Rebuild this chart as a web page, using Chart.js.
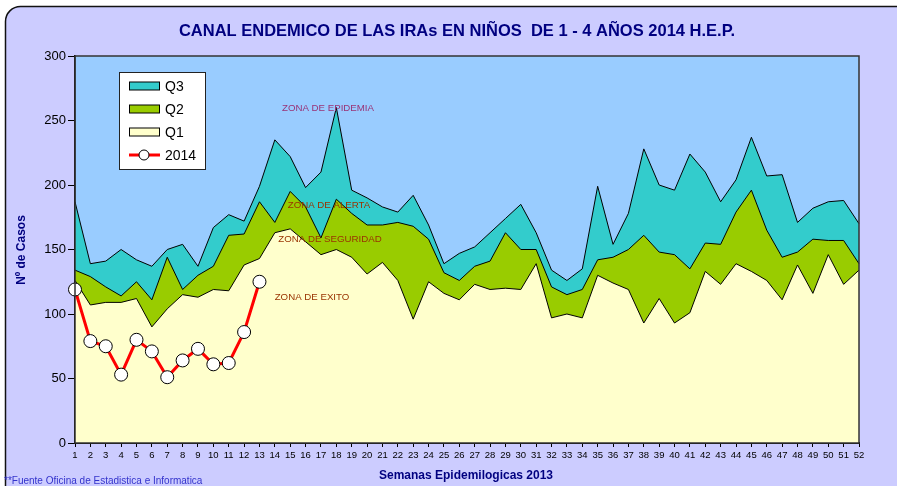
<!DOCTYPE html>
<html lang="en">
<head>
    <meta charset="UTF-8"/>
    <title>Canal Endemico IRAs</title>
    <script src="https://cdn.jsdelivr.net/npm/chart.js"></script>
    <style>
        html, body {
            margin: 0;
            padding: 0;
            background-color: #fff;
            overflow: hidden;
        }

        .chart-wrapper {
            width: 897px;
            height: 486px;
        }

        canvas {
            display: block;
        }
    </style>
</head>
<body>
<div class="chart-wrapper">
    <canvas id="canal" width="897" height="486"></canvas>
</div>

<script>
    // semanas epidemiologicas
    const weeks = ['1','2','3','4','5','6','7','8','9','10','11','12','13','14','15','16','17','18','19','20',
        '21','22','23','24','25','26','27','28','29','30','31','32','33','34','35','36','37','38','39','40',
        '41','42','43','44','45','46','47','48','49','50','51','52'];

    // limite superior de cada zona (casos)
    const q1 = [126, 107, 109, 109, 112, 90, 104, 115, 113, 119, 118, 138, 143, 163, 166, 156, 146, 150, 144, 131,
        140, 126, 96, 125, 116, 111, 123, 119, 120, 119, 139, 97, 100, 97, 130, 124, 119, 93, 112, 93,
        101, 133, 123, 139, 133, 126, 111, 138, 116, 146, 123, 134];
    const q2 = [134, 129, 121, 114, 125, 111, 144, 119, 130, 137, 161, 162, 187, 171, 195, 183, 159, 189, 178, 169,
        169, 171, 168, 158, 132, 126, 137, 141, 163, 150, 150, 121, 115, 119, 142, 144, 150, 161, 148, 146,
        135, 155, 154, 179, 196, 165, 144, 148, 158, 157, 157, 139];
    const q3 = [187, 139, 141, 150, 142, 137, 150, 154, 137, 167, 177, 172, 199, 235, 222, 198, 210, 260, 196, 190,
        183, 179, 192, 169, 139, 147, 152, 163, 174, 185, 163, 134, 126, 135, 199, 154, 178, 228, 200, 196,
        224, 210, 187, 204, 237, 207, 208, 171, 182, 187, 188, 170];

    // casos 2014 (semanas 1 - 13)
    const casos2014 = [119, 79, 75, 53, 80, 71, 51, 64, 73, 61, 62, 86, 125];

    const yTicks = [0, 50, 100, 150, 200, 250, 300];

    const NAVY = '#000080';
    const FONT = '"Liberation Sans", Arial, sans-serif';
    const NARROW = '"Liberation Sans Narrow", "Arial Narrow", "Liberation Sans", sans-serif';

    const zoneLabels = [
        {text: 'ZONA DE EPIDEMIA', x: 328, y: 108, color: '#993377'},
        {text: 'ZONA DE ALERTA', x: 329, y: 205, color: '#993300'},
        {text: 'ZONA DE SEGURIDAD', x: 330, y: 239, color: '#993300'},
        {text: 'ZONA DE EXITO', x: 312, y: 297, color: '#993300'}
    ];

    // marco redondeado y fondo del area de grafico
    const plotBackground = {
        id: 'plotBackground',
        beforeDraw(chart) {
            const {ctx, chartArea: a} = chart;
            ctx.save();
            ctx.fillStyle = '#fff';
            ctx.fillRect(0, 0, chart.width, chart.height);
            ctx.beginPath();
            ctx.roundRect(5.5, 6.5, 1000, 600, 15);
            ctx.fillStyle = '#ccccff';
            ctx.fill();
            ctx.strokeStyle = '#111';
            ctx.lineWidth = 1.5;
            ctx.stroke();

            ctx.fillStyle = '#99ccff';
            ctx.fillRect(a.left, a.top, a.right - a.left, a.bottom - a.top);
            ctx.restore();
        },
        afterDatasetsDraw(chart) {
            const {ctx, chartArea: a} = chart;
            ctx.save();
            ctx.strokeStyle = '#333';
            ctx.lineWidth = 1.5;
            ctx.strokeRect(a.left, a.top, a.right - a.left, a.bottom - a.top);
            ctx.restore();
        }
    };

    const extraText = {
        id: 'extraText',
        afterDraw(chart) {
            const ctx = chart.ctx;
            ctx.save();

            // zonas
            ctx.font = '9.7px ' + FONT;
            ctx.textAlign = 'center';
            ctx.textBaseline = 'middle';
            zoneLabels.forEach(z => {
                ctx.fillStyle = z.color;
                ctx.fillText(z.text, z.x, z.y);
            });

            // titulo
            ctx.fillStyle = NAVY;
            ctx.font = 'bold 16.5px ' + NARROW;
            ctx.fillText('CANAL ENDEMICO DE LAS IRAs EN NIÑOS  DE 1 - 4 AÑOS 2014 H.E.P.', 457, 31);

            // titulos de ejes
            ctx.font = 'bold 12px ' + FONT;
            ctx.fillText('Semanas Epidemilogicas 2013', 466, 476);
            ctx.save();
            ctx.translate(22, 250);
            ctx.rotate(-Math.PI / 2);
            ctx.fillText('Nº de Casos', 0, 0);
            ctx.restore();

            // fuente
            ctx.font = '10px ' + NARROW;
            ctx.textAlign = 'left';
            ctx.fillStyle = '#3333cc';
            ctx.fillText('**Fuente Oficina de Estadistica e Informatica', 4, 481);

            // leyenda
            const lx = 119.5, ly = 72.5, lw = 86, lh = 97;
            ctx.fillStyle = '#fff';
            ctx.fillRect(lx, ly, lw, lh);
            ctx.strokeStyle = '#222';
            ctx.lineWidth = 1;
            ctx.strokeRect(lx, ly, lw, lh);

            const items = [
                {label: 'Q3', color: '#33cccc', y: 86},
                {label: 'Q2', color: '#99cc00', y: 109},
                {label: 'Q1', color: '#ffffcc', y: 132}
            ];
            ctx.font = '14px ' + FONT;
            ctx.textBaseline = 'middle';
            items.forEach(it => {
                ctx.fillStyle = it.color;
                ctx.fillRect(129.5, it.y - 4, 30, 8);
                ctx.strokeStyle = '#000';
                ctx.strokeRect(129.5, it.y - 4, 30, 8);
                ctx.fillStyle = '#000';
                ctx.fillText(it.label, 165, it.y + 1);
            });
            ctx.strokeStyle = '#ff0000';
            ctx.lineWidth = 3;
            ctx.beginPath();
            ctx.moveTo(129, 155);
            ctx.lineTo(160, 155);
            ctx.stroke();
            ctx.fillStyle = '#fff';
            ctx.strokeStyle = '#000';
            ctx.lineWidth = 1;
            ctx.beginPath();
            ctx.arc(144, 155, 5, 0, Math.PI * 2);
            ctx.fill();
            ctx.stroke();
            ctx.fillStyle = '#000';
            ctx.fillText('2014', 165, 156);

            ctx.restore();
        }
    };

    const areaStyle = (label, data, color) => ({
        label: label,
        data: data,
        backgroundColor: color,
        borderColor: '#000',
        borderWidth: 1,
        fill: 'origin',
        pointRadius: 0,
        tension: 0
    });

    const ctx = document.getElementById('canal').getContext('2d');

    const canalChart = new Chart(ctx, {
        type: 'line',
        data: {
            labels: weeks,
            datasets: [
                {
                    label: '2014',
                    data: casos2014,
                    borderColor: '#ff0000',
                    borderWidth: 3,
                    pointRadius: 6.5,
                    pointBackgroundColor: '#fff',
                    pointBorderColor: '#000',
                    pointBorderWidth: 1,
                    fill: false,
                    tension: 0
                },
                areaStyle('Q1', q1, '#ffffcc'),
                areaStyle('Q2', q2, '#99cc00'),
                areaStyle('Q3', q3, '#33cccc')
            ]
        },
        options: {
            responsive: false,
            animation: false,
            layout: {
                padding: {left: 0, top: 56, right: 38, bottom: 0}
            },
            scales: {
                x: {
                    offset: false,
                    grid: {
                        drawOnChartArea: false,
                        drawTicks: true,
                        tickLength: 4,
                        color: '#000'
                    },
                    border: {color: '#000', width: 2},
                    ticks: {
                        autoSkip: false,
                        maxRotation: 0,
                        color: '#000',
                        padding: 3,
                        font: {family: NARROW, size: 9.5}
                    },
                    afterFit(scale) {
                        scale.height = 43;
                    }
                },
                y: {
                    min: 0,
                    max: 300,
                    afterBuildTicks(scale) {
                        scale.ticks = yTicks.map(v => ({value: v}));
                    },
                    grid: {
                        drawOnChartArea: false,
                        drawTicks: true,
                        tickLength: 7,
                        color: '#000'
                    },
                    border: {color: '#000', width: 1.5},
                    ticks: {
                        color: '#000',
                        padding: 2,
                        font: {family: FONT, size: 13}
                    },
                    afterFit(scale) {
                        scale.width = 75;
                    }
                }
            },
            plugins: {
                legend: {display: false},
                tooltip: {enabled: false}
            }
        },
        plugins: [plotBackground, extraText]
    });
</script>
</body>
</html>
